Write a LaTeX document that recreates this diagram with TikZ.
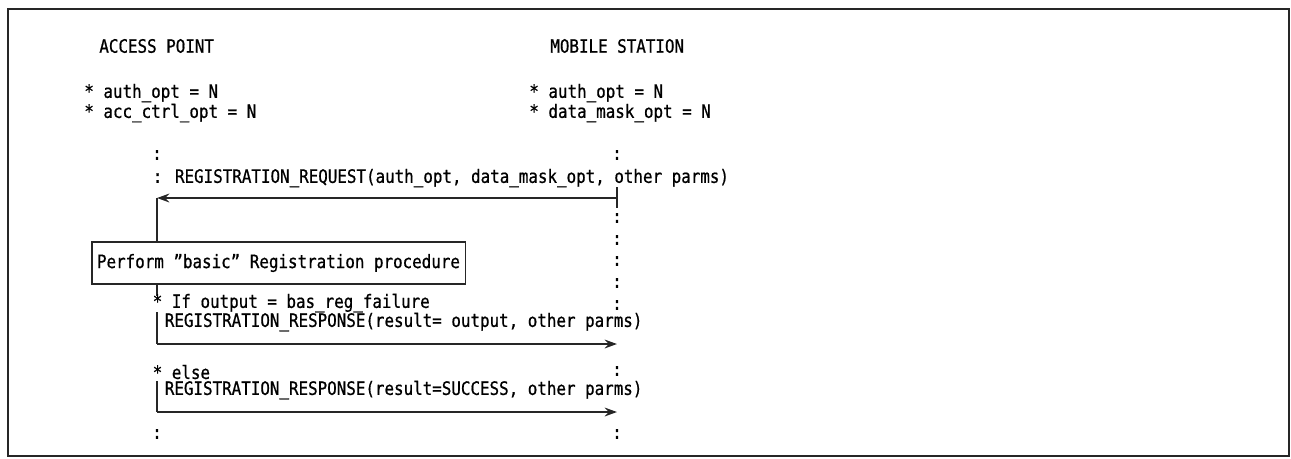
\documentclass[tikz,border=0pt]{standalone}
\usepackage{fontspec}
\setmainfont{DejaVu Sans Mono}[FakeStretch=0.86, FakeBold=0.7]
\usetikzlibrary{arrows.meta}
\tikzset{
  frame/.style={line width=1.2pt, draw=black!85},
  lbl/.style={anchor=west, inner sep=0pt, font=\fontsize{10.5}{11}\selectfont},
  dotmark/.style={inner sep=0pt, font=\fontsize{10.5}{11}\selectfont},
  flow/.style={line width=1.1pt, draw=black!85},
  msg/.style={flow, -{Stealth[length=7pt,width=5pt]}},
  procbox/.style={draw=black!85, line width=1.1pt, fill=white, minimum width=7.48cm,
    minimum height=0.84cm, inner sep=0pt, font=\fontsize{10.5}{11}\selectfont},
}

\begin{document}
\begin{tikzpicture}[x=0.02cm, y=-0.02cm]
\useasboundingbox (0,0) rectangle (1291,458);
\draw[frame] (8,9) rectangle (1289,456);
% headings
\node[lbl] (ap) at (99,46) {ACCESS POINT};
\node[lbl] (ms) at (550,46) {MOBILE STATION};
\node[lbl] (apa) at (84,93) {* auth\_opt = N};
\node[lbl] (apb) at (84,113) {* acc\_ctrl\_opt = N};
\node[lbl] (msa) at (529,93) {* auth\_opt = N};
\node[lbl] (msb) at (529,113) {* data\_mask\_opt = N};
% lifeline dots
\node[dotmark] (apc1) at (157,155) {:};
\node[dotmark] (msc1) at (617,155) {:};
\foreach \yy [count=\i] in {218,240,261,283,305}
  \node[dotmark] (msd\i) at (617,\yy) {:};
\node[dotmark] (msc2) at (617,371) {:};
\node[dotmark] (apc9) at (157,434) {:};
\node[dotmark] (msc9) at (617,434) {:};
% request
\node[lbl] (req) at (152.4,178) {: REGISTRATION\_REQUEST(auth\_opt, data\_mask\_opt, other parms)};
\coordinate (msr) at (617,198);
\coordinate (apr) at (157,198);
\draw[flow] (617,187) -- (617,208);
\draw[msg] (msr) -- (apr);
\node[procbox] (proc) at (278.5,263) {Perform \char34 basic\char34\ Registration procedure};
\draw[flow] (apr) -- (proc.north -| apr);
\draw[flow] (proc.south -| apr) -- ++(0,11);
% response on failure
\node[lbl] (iff) at (152.4,303) {* If output = bas\_reg\_failure};
\node[lbl] (rsp1) at (164.5,322) {REGISTRATION\_RESPONSE(result= output, other parms)};
\coordinate (ap1) at (157,344);
\coordinate (ms1) at (617,344);
\draw[flow] (157,312) -- (ap1);
\draw[msg] (ap1) -- (ms1);
% response on success
\node[lbl] (els) at (152.4,372) {* else};
\node[lbl] (rsp2) at (164.5,390) {REGISTRATION\_RESPONSE(result=SUCCESS, other parms)};
\coordinate (ap2) at (157,412);
\coordinate (ms2) at (617,412);
\draw[flow] (157,381) -- (ap2);
\draw[msg] (ap2) -- (ms2);
\end{tikzpicture}
\end{document}
